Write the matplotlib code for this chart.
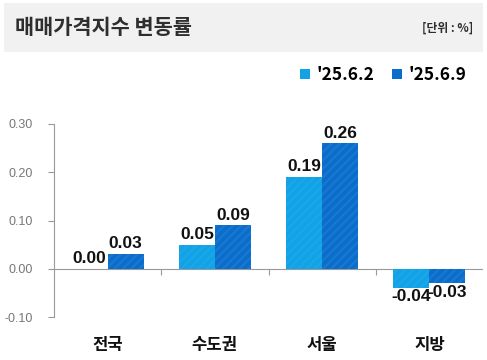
import matplotlib
matplotlib.use("Agg")
import matplotlib.pyplot as plt
from matplotlib.patches import Rectangle, Patch
import numpy as np

plt.rcParams['font.family'] = ['Noto Sans CJK KR', 'DejaVu Sans']
plt.rcParams['hatch.linewidth'] = 1.5

categories = ['전국', '수도권', '서울', '지방']
series_names = ["'25.6.2", "'25.6.9"]
values_a = [0.00, 0.05, 0.19, -0.04]
values_b = [0.03, 0.09, 0.26, -0.03]
value_labels_a = ['0.00', '0.05', '0.19', '-0.04']
value_labels_b = ['0.03', '0.09', '0.26', '-0.03']
yticks = [-0.10, 0.00, 0.10, 0.20, 0.30]
ytick_labels = ['-0.10', '0.00', '0.10', '0.20', '0.30']

col_a = '#12a2e6'
col_a_h = '#1ba8ea'
col_b = '#0b6cca'
col_b_h = '#1879d3'

W, H = 487, 360
fig = plt.figure(figsize=(W/100, H/100), dpi=100)

# title band
fig.patches.append(Rectangle((4/W, 1 - 52/H), 479/W, 49/H, transform=fig.transFigure,
                             facecolor='#f1f1f1', edgecolor='none', zorder=0))
fig.text(15/W, 1 - 28/H, '매매가격지수 변동률', fontsize=15, fontweight='bold',
         color='#2e2e2e', va='center', ha='left')
fig.text(473/W, 1 - 28/H, '[단위 : %]', fontsize=8.5, fontweight='bold',
         color='#2e2e2e', va='center', ha='right')

ax = fig.add_axes([54/W, 43/H, 429/W, 193/H])
x = np.arange(len(categories))
bw = 0.335
num_font = ['Liberation Sans', 'DejaVu Sans']

bars_a = ax.bar(x - bw/2, values_a, bw, color=col_a, edgecolor=col_a_h, hatch='////',
                linewidth=0, zorder=2)
bars_b = ax.bar(x + bw/2, values_b, bw, color=col_b, edgecolor=col_b_h, hatch='////',
                linewidth=0, zorder=2)

for bars, labs, vals in ((bars_a, value_labels_a, values_a), (bars_b, value_labels_b, values_b)):
    for b, lab, v in zip(bars, labs, vals):
        cx = b.get_x() + b.get_width()/2
        if v >= 0:
            ax.annotate(lab, (cx, v), xytext=(0, 2), textcoords='offset points',
                        ha='center', va='bottom', fontsize=12.5, fontweight='bold',
                        family=num_font, color='#111111')
        else:
            ax.annotate(lab, (cx, v), xytext=(0, -1), textcoords='offset points',
                        ha='center', va='top', fontsize=12.5, fontweight='bold',
                        family=num_font, color='#111111')

ax.set_xlim(-0.5, len(categories) - 0.5)
ax.set_ylim(-0.10, 0.30)
ax.set_yticks(yticks)
ax.set_yticklabels(ytick_labels, fontsize=9, color='#777777', family=['Liberation Sans', 'DejaVu Sans'])
ax.tick_params(axis='y', length=4, color='#999999', pad=11)
ax.set_xticks(x)
ax.set_xticklabels(categories, fontsize=12, fontweight='bold', color='#111111')
ax.tick_params(axis='x', length=0, pad=14)

for s in ('top', 'right', 'bottom'):
    ax.spines[s].set_visible(False)
ax.spines['left'].set_color('#999999')
ax.spines['left'].set_linewidth(0.8)
ax.axhline(0, color='#999999', linewidth=0.8, zorder=1)
ax.vlines(np.arange(1, len(categories)) - 0.5, -0.012, 0, color='#999999', linewidth=0.8)

handles = [Patch(facecolor=col_a, edgecolor='none', linewidth=0),
           Patch(facecolor=col_b, edgecolor='none', linewidth=0)]
leg = fig.legend(handles, series_names, loc='center right', bbox_to_anchor=(482/W, 1 - 75/H),
                 ncol=2, frameon=False, prop={'size': 12.5, 'weight': 'bold'},
                 handlelength=0.55, handleheight=0.55, handletextpad=0.4, columnspacing=1.0)

fig.savefig('out.png', dpi=100)
